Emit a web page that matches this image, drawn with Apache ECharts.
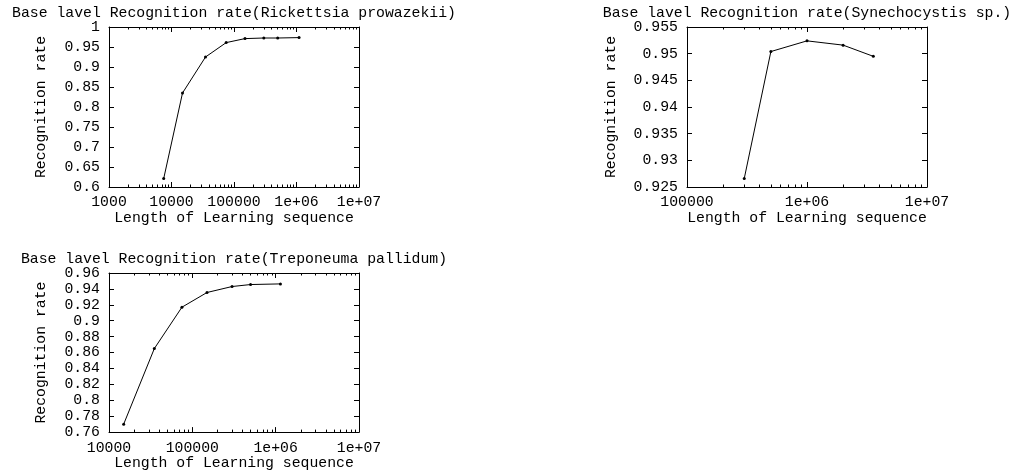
<!DOCTYPE html>
<html>
<head>
<meta charset="utf-8">
<script src="https://cdn.jsdelivr.net/npm/echarts@6/dist/echarts.min.js"></script>
<style>
  html, body { margin: 0; padding: 0; background: #fff; }
  #chart { width: 1011px; height: 472px; }
</style>
</head>
<body>
<div id="chart"></div>
<script>
// Rickettsia prowazekii
const rickX = [7500, 15000, 35000, 75000, 150000, 300000, 500000, 1100000]
const rickY = [0.621, 0.835, 0.925, 0.961, 0.971, 0.9725, 0.9725, 0.9735]
// Synechocystis sp.
const synX = [300000, 500000, 1000000, 2000000, 3570000]
const synY = [0.9266, 0.9504, 0.9524, 0.9516, 0.9495]
// Treponeuma pallidum
const trepX = [15000, 35000, 75000, 150000, 300000, 500000, 1140000]
const trepY = [0.770, 0.865, 0.917, 0.9355, 0.943, 0.9455, 0.9463]

const titles = [
  'Base lavel Recognition rate(Rickettsia prowazekii)',
  'Base lavel Recognition rate(Synechocystis sp.)',
  'Base lavel Recognition rate(Treponeuma pallidum)'
]
const xName = 'Length of Learning sequence'
const yName = 'Recognition rate'

const xRanges = [[1000, 1e7], [1e5, 1e7], [1e4, 1e7]]
const yRanges = [[0.6, 1], [0.925, 0.955], [0.76, 0.96]]
const yIntervals = [0.05, 0.005, 0.02]

const grids = [
  { left: 109, top: 27, width: 250, height: 160 },
  { left: 687, top: 27, width: 240, height: 160 },
  { left: 109, top: 273, width: 250, height: 160 }
]
const yNameGaps = [60, 68, 60]

const FONT = 'Liberation Mono'
const FS = 14.8

// minor log ticks 2..9 x 10^k inside the range
const minorTicks = (lo, hi) => {
  const out = []
  for (let d = lo; d < hi; d *= 10) {
    for (let m = 2; m <= 9; m++) out.push(d * m)
  }
  return out
}

const fmtX = v => v >= 1e6 ? '1e+0' + Math.round(Math.log10(v)) : String(Math.round(v))

const xAxis = []
const yAxis = []
grids.forEach((g, i) => {
  const [lo, hi] = xRanges[i]
  const base = {
    type: 'log', logBase: 10, gridIndex: i, min: lo, max: hi,
    splitLine: { show: false }
  }
  xAxis.push({
    ...base, position: 'bottom',
    axisLine: { show: true, onZero: false, lineStyle: { color: '#000', width: 1 } },
    axisTick: { show: true, inside: true, length: 5, lineStyle: { color: '#000' } },
    axisLabel: { margin: 8, color: '#000', fontFamily: FONT, fontSize: FS, formatter: fmtX },
    name: xName, nameLocation: 'middle', nameGap: 23,
    nameTextStyle: { color: '#000', fontFamily: FONT, fontSize: FS }
  })
  xAxis.push({
    ...base, position: 'bottom',
    axisLine: { show: false, onZero: false },
    axisTick: { show: true, inside: true, length: 2.5, customValues: minorTicks(lo, hi), lineStyle: { color: '#000' } },
    axisLabel: { show: false }
  })
  xAxis.push({
    ...base, position: 'top',
    axisLine: { show: true, onZero: false, lineStyle: { color: '#000', width: 1 } },
    axisTick: { show: true, inside: true, length: 5, lineStyle: { color: '#000' } },
    axisLabel: { show: false }
  })
  xAxis.push({
    ...base, position: 'top',
    axisLine: { show: false, onZero: false },
    axisTick: { show: true, inside: true, length: 2.5, customValues: minorTicks(lo, hi), lineStyle: { color: '#000' } },
    axisLabel: { show: false }
  })

  const ybase = {
    type: 'value', gridIndex: i, min: yRanges[i][0], max: yRanges[i][1], interval: yIntervals[i],
    splitLine: { show: false }
  }
  yAxis.push({
    ...ybase, position: 'left',
    axisLine: { show: true, onZero: false, lineStyle: { color: '#000', width: 1 } },
    axisTick: { show: true, inside: true, length: 5, lineStyle: { color: '#000' } },
    axisLabel: { margin: 9, color: '#000', fontFamily: FONT, fontSize: FS },
    name: yName, nameLocation: 'middle', nameGap: yNameGaps[i], nameRotate: 90,
    nameTextStyle: { color: '#000', fontFamily: FONT, fontSize: FS }
  })
  yAxis.push({
    ...ybase, position: 'right',
    axisLine: { show: true, onZero: false, lineStyle: { color: '#000', width: 1 } },
    axisTick: { show: true, inside: true, length: 5, lineStyle: { color: '#000' } },
    axisLabel: { show: false }
  })
})

const zip = (xs, ys) => xs.map((x, k) => [x, ys[k]])
const seriesData = [zip(rickX, rickY), zip(synX, synY), zip(trepX, trepY)]

const title = grids.map((g, i) => ({
  text: titles[i],
  left: g.left + g.width / 2,
  textAlign: 'center',
  top: g.top - 21,
  padding: 0,
  textStyle: { color: '#000', fontFamily: FONT, fontSize: FS, fontWeight: 'normal' }
}))

const chart = echarts.init(document.getElementById('chart'))
chart.setOption({
  animation: false,
  backgroundColor: '#fff',
  title,
  grid: grids,
  xAxis,
  yAxis,
  series: seriesData.map((d, i) => ({
    type: 'line',
    xAxisIndex: i * 4,
    yAxisIndex: i * 2,
    data: d,
    symbol: 'circle',
    symbolSize: 3,
    lineStyle: { color: '#000', width: 1 },
    itemStyle: { color: '#000' }
  }))
})
</script>
</body>
</html>
